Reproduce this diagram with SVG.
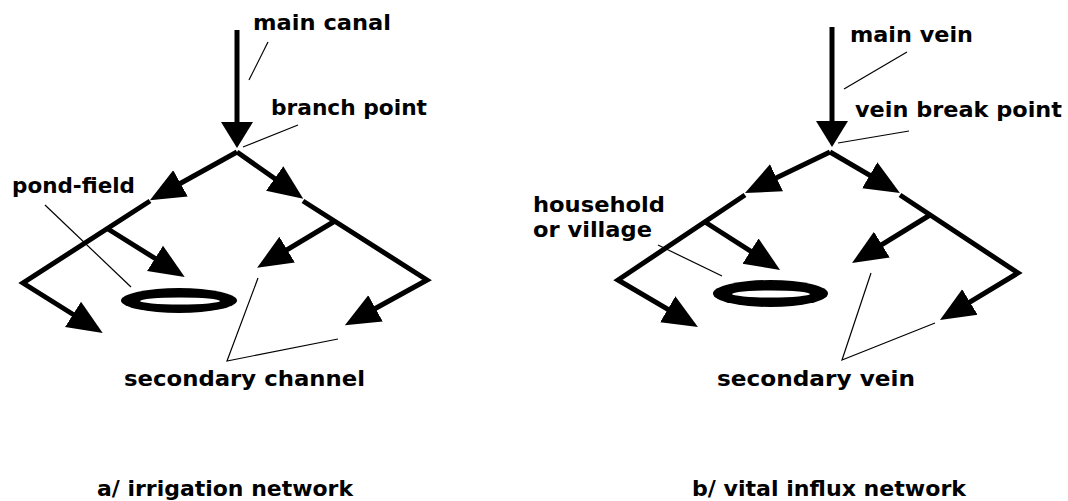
<svg xmlns="http://www.w3.org/2000/svg" width="1068" height="501" viewBox="0 0 1068 501">
<style>
.flow{fill:none;stroke:#000;stroke-width:5;stroke-linejoin:miter}
.lead{fill:none;stroke:#000;stroke-width:1.2}
.lbl{font-family:"DejaVu Sans",sans-serif;font-weight:bold;font-size:22px;fill:#000}
.pond{fill:#000}
.hole{fill:#fff}
</style>
<defs>
<marker id="ah" markerUnits="userSpaceOnUse" markerWidth="36" markerHeight="32" viewBox="0 0 36 32" refX="20" refY="16" orient="auto"><path d="M0,1 L35,16 L0,31 z" fill="#000"/></marker>
<marker id="ahm" markerUnits="userSpaceOnUse" markerWidth="27" markerHeight="32" viewBox="0 0 27 32" refX="13" refY="16" orient="auto"><path d="M0,0 L26,16 L0,32 z" fill="#000"/></marker>
</defs>
<rect width="1068" height="501" fill="#fff"/>
<g id="connectors">
<path class="flow" d="M237,30 L237,135" marker-end="url(#ahm)"/>
<path class="flow" d="M237,152 L163,193" marker-end="url(#ah)"/>
<path class="flow" d="M150,201 L23,283 L90,325" marker-end="url(#ah)"/>
<path class="flow" d="M108,229 L172,269" marker-end="url(#ah)"/>
<path class="flow" d="M237,152 L291,190" marker-end="url(#ah)"/>
<path class="flow" d="M303,201 L427,280 L358,318" marker-end="url(#ah)"/>
<path class="flow" d="M335,221 L270,260" marker-end="url(#ah)"/>
<path class="flow" d="M832,27 L832,134" marker-end="url(#ahm)"/>
<path class="flow" d="M830,152 L758.5,186.5" marker-end="url(#ah)"/>
<path class="flow" d="M745,195 L618,280 L685,319.4" marker-end="url(#ah)"/>
<path class="flow" d="M705,222 L767.4,261.9" marker-end="url(#ah)"/>
<path class="flow" d="M830,152 L887,185.4" marker-end="url(#ah)"/>
<path class="flow" d="M900,195 L1018,273 L952.8,312.3" marker-end="url(#ah)"/>
<path class="flow" d="M930,215 L864.8,255.1" marker-end="url(#ah)"/>
<path class="lead" d="M268,42 L249,80"/>
<path class="lead" d="M298,125 L243,147"/>
<path class="lead" d="M45,205 L131,287"/>
<path class="lead" d="M258,278 L227,361 L338,339"/>
<path class="lead" d="M907,52 L844,89"/>
<path class="lead" d="M909,131 L838,143"/>
<path class="lead" d="M658,245 L722,276"/>
<path class="lead" d="M871,273 L842,360 L935,323"/>
</g>
<g id="pond-a"><ellipse class="pond" cx="179" cy="300.5" rx="58" ry="12.5"/><ellipse class="hole" cx="180" cy="301" rx="40" ry="3.5"/></g>
<g id="pond-b"><ellipse class="pond" cx="770.5" cy="293.5" rx="57.5" ry="13.5"/><ellipse class="hole" cx="771" cy="294" rx="39" ry="3.5"/></g>
<g id="label-main-canal"><text class="lbl" x="253" y="30" textLength="138" lengthAdjust="spacingAndGlyphs">main canal</text></g>
<g id="label-branch-point"><text class="lbl" x="271" y="115" textLength="156" lengthAdjust="spacingAndGlyphs">branch point</text></g>
<g id="label-pond-field"><text class="lbl" x="12" y="193" textLength="123" lengthAdjust="spacingAndGlyphs">pond-field</text></g>
<g id="label-secondary-channel"><text class="lbl" x="124" y="386" textLength="241" lengthAdjust="spacingAndGlyphs">secondary channel</text></g>
<g id="label-main-vein"><text class="lbl" x="850" y="42" textLength="123" lengthAdjust="spacingAndGlyphs">main vein</text></g>
<g id="label-vein-break-point"><text class="lbl" x="855" y="117" textLength="207" lengthAdjust="spacingAndGlyphs">vein break point</text></g>
<g id="label-household"><text class="lbl" x="533" y="212" textLength="132" lengthAdjust="spacingAndGlyphs">household</text><text class="lbl" x="533" y="237" textLength="119" lengthAdjust="spacingAndGlyphs">or village</text></g>
<g id="label-secondary-vein"><text class="lbl" x="717" y="386" textLength="198" lengthAdjust="spacingAndGlyphs">secondary vein</text></g>
<g id="caption-a"><text class="lbl" x="97" y="496" textLength="256" lengthAdjust="spacingAndGlyphs">a/ irrigation network</text></g>
<g id="caption-b"><text class="lbl" x="692" y="496" textLength="274" lengthAdjust="spacingAndGlyphs">b/ vital influx network</text></g>
</svg>
